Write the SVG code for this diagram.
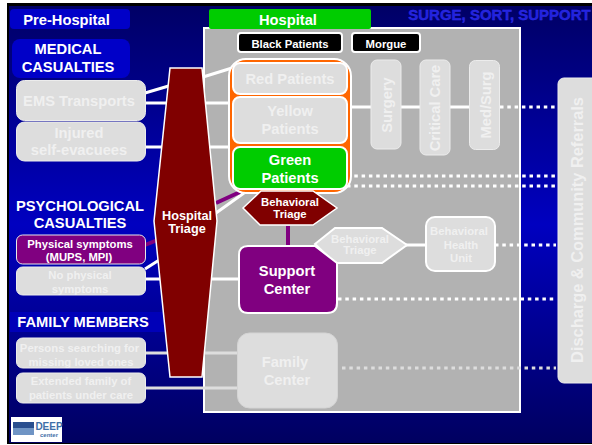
<svg xmlns="http://www.w3.org/2000/svg" width="592" height="445" viewBox="0 0 592 445">
<defs>
<linearGradient id="bg" x1="0" y1="0" x2="0" y2="1"><stop offset="0" stop-color="#000066"/><stop offset="0.5" stop-color="#0000c0"/><stop offset="1" stop-color="#000060"/></linearGradient>
</defs>
<style>
text{font-family:"Liberation Sans",Arial,sans-serif;font-weight:700;text-anchor:middle;fill:#fff}
.g{fill:#dddddd;stroke:#ececec;stroke-width:1}
.gw{fill:#dddddd;stroke:#fff;stroke-width:2}
.lt{fill:#f0f0f0}
.w{stroke:#fff;stroke-width:3;fill:none}
.lg{stroke:#dddddd;stroke-width:3;fill:none}
.d{stroke:#fff;stroke-width:3;stroke-dasharray:3.5 3.8;fill:none}
.dg{stroke:#dddddd;stroke-width:3;stroke-dasharray:3.5 3.8;fill:none}
.p{stroke:#800080;stroke-width:4;fill:none}
.blue{fill:#0000c8}
</style>
<rect width="592" height="445" fill="#fff"/>
<rect x="7" y="3" width="585" height="441" fill="#000"/>
<rect x="9" y="6" width="583" height="437" fill="url(#bg)"/>
<g id="hospital-area"><rect x="204" y="28" width="316" height="384" fill="#b2b2b2" stroke="#fff" stroke-width="2"/></g>
<g id="connectors">
<path class="w" d="M145 93L172 85M145 103L232 103M145 147L232 147M145 269L175 250M145 279L175 279"/>
<path class="w" d="M203 77L232 68M216 213L244 193"/>
<path class="p" d="M145 245L175 233M216 203L240 192M288 226V246"/>
<path class="w" d="M352 107H371M401 107H420M450 107H470M400 245H426M175 279H238"/>
<path class="lg" d="M145 353H238M145 388H238"/>
<path class="d" d="M500 107H556M347 176H556M347 186H556M495 245H556M338 299H556"/>
<path class="dg" d="M342 368H556"/>
</g>
<g id="pre-hospital"><rect x="10" y="9" width="120" height="20" rx="4" class="blue"/><text x="66.500" y="25" font-size="14.700">Pre-Hospital</text></g>
<g id="medical"><rect x="12" y="39" width="118" height="39" rx="8" class="blue"/><text x="68" y="54" font-size="14.700">MEDICAL</text><text x="68" y="72" font-size="14.700">CASUALTIES</text></g>
<g id="ems"><rect x="16.500" y="80.500" width="129" height="40" rx="8" class="g"/><text class="lt" x="79" y="106" font-size="14.700">EMS Transports</text></g>
<g id="injured"><rect x="16.500" y="122" width="129" height="39" rx="8" class="g"/><text class="lt" x="79" y="138" font-size="14.700">Injured</text><text class="lt" x="79" y="155" font-size="14.700">self-evacuees</text></g>
<g id="psych"><text x="80" y="211" font-size="14.700">PSYCHOLOGICAL</text><text x="80" y="228" font-size="14.700">CASUALTIES</text></g>
<g id="physical"><rect x="16.500" y="235" width="129" height="29" rx="6" fill="#800080" stroke="#e8e8e8"/><text x="80" y="248" font-size="11.300">Physical symptoms</text><text x="79" y="261" font-size="11.300">(MUPS, MPI)</text></g>
<g id="nophysical"><rect x="16.500" y="267" width="129" height="28" rx="6" class="g"/><text class="lt" x="80" y="279" font-size="11.300">No physical</text><text class="lt" x="80" y="293" font-size="11.300">symptoms</text></g>
<g id="family"><rect x="10" y="312" width="155" height="20" fill="#0000b8"/><text x="83" y="327" font-size="14.700">FAMILY MEMBERS</text></g>
<g id="searching"><rect x="16.500" y="338" width="129" height="30" rx="6" class="g"/><text class="lt" x="79.500" y="352" font-size="11.300">Persons searching for</text><text class="lt" x="81" y="366" font-size="11.300">missing loved ones</text></g>
<g id="extended"><rect x="16.500" y="373" width="129" height="30" rx="6" class="g"/><text class="lt" x="81" y="385" font-size="11.300">Extended family of</text><text class="lt" x="81" y="399" font-size="11.300">patients under care</text></g>
<g id="logo"><rect x="11" y="417" width="51" height="25" fill="#fff"/><rect x="13" y="422" width="21" height="6" fill="#2a4f8f"/><rect x="13" y="428" width="21" height="7" fill="#6f94c4"/><text x="49" y="430" font-size="10" style="fill:#3f6fa8">DEEP</text><text x="49" y="436.500" font-size="6" style="fill:#3f6fa8">center</text></g>
<g id="triage"><polygon points="170,68 202,68 217,221 202,377 170,377 154,221" fill="#800000" stroke="#fff" stroke-width="1.500"/><text x="187" y="220" font-size="12.700">Hospital</text><text x="187" y="233" font-size="12.700">Triage</text></g>
<g id="hospital-label"><rect x="209" y="9" width="162" height="20" rx="2" fill="#00cc00"/><text x="288" y="25" font-size="14.700">Hospital</text></g>
<text x="499.500" y="20" font-size="15" style="fill:#2222dd;stroke:#3030e8;stroke-width:.4">SURGE, SORT, SUPPORT</text>
<g id="black"><rect x="238" y="33" width="104" height="19" rx="3" fill="#000" stroke="#fff" stroke-width="2"/><text x="290" y="48" font-size="11.300">Black Patients</text></g>
<g id="morgue"><rect x="352" y="33" width="68" height="19" rx="3" fill="#000" stroke="#fff" stroke-width="2"/><text x="386" y="48" font-size="11.300">Morgue</text></g>
<g id="orange"><rect x="229" y="59" width="122" height="134" rx="17" fill="#ff6600" stroke="#fff" stroke-width="2"/></g>
<g id="red"><rect x="233" y="63" width="114" height="31" rx="7" class="gw"/><text class="lt" x="290" y="84" font-size="14.700">Red Patients</text></g>
<g id="yellow"><rect x="233" y="97" width="114" height="46" rx="7" class="gw"/><text class="lt" x="290" y="116" font-size="14.700">Yellow</text><text class="lt" x="290" y="134" font-size="14.700">Patients</text></g>
<g id="green"><rect x="233" y="147" width="114" height="42" rx="7" fill="#00cc00" stroke="#fff" stroke-width="2"/><text x="290" y="165" font-size="14.700">Green</text><text x="290" y="183" font-size="14.700">Patients</text></g>
<g id="bt1"><polygon points="243,208 261,191 313,191 337,208 313,225 260,225" fill="#800000" stroke="#fff" stroke-width="1.500"/><text x="290" y="206" font-size="11.300">Behavioral</text><text x="290" y="218" font-size="11.300">Triage</text></g>
<g id="surgery"><rect x="371" y="60" width="30" height="89" rx="6" class="g"/><text class="lt" font-size="14.700" transform="translate(392 105) rotate(-90)">Surgery</text></g>
<g id="critical"><rect x="420" y="60" width="30" height="95" rx="6" class="g"/><text class="lt" font-size="14.700" transform="translate(440 108) rotate(-90)">Critical Care</text></g>
<g id="medsurg"><rect x="469.500" y="60.500" width="30" height="89" rx="6" class="g"/><text class="lt" font-size="14.700" transform="translate(491 105) rotate(-90)">Med/Surg</text></g>
<g id="bt2"><polygon points="315,244 335,228 382,228 407,245 382,263 335,263" class="gw"/><text class="lt" x="360" y="243" font-size="11.300">Behavioral</text><text class="lt" x="360" y="254" font-size="11.300">Triage</text></g>
<g id="bhu"><rect x="426" y="217" width="69" height="54" rx="9" class="gw"/><text class="lt" x="459" y="235" font-size="11.300">Behavioral</text><text class="lt" x="461" y="249" font-size="11.300">Health</text><text class="lt" x="461" y="262" font-size="11.300">Unit</text></g>
<g id="support"><path d="M248 246H315L337 263V303Q337 313 327 313H248Q239 313 239 303V255Q239 246 248 246Z" fill="#800080" stroke="#fff" stroke-width="2"/><text x="287" y="276" font-size="14.700">Support</text><text x="287" y="294" font-size="14.700">Center</text></g>
<g id="familyc"><rect x="237.500" y="333" width="100" height="75" rx="12" fill="#dddddd" stroke="#d4d4d4"/><text class="lt" x="285" y="367" font-size="14.700">Family</text><text class="lt" x="287" y="385" font-size="14.700">Center</text></g>
<g id="discharge"><rect x="558" y="78" width="40" height="305" rx="6" class="g"/><text class="lt" font-size="16.400" transform="translate(583 230) rotate(-90)">Discharge &amp; Community Referrals</text></g>
</svg>
